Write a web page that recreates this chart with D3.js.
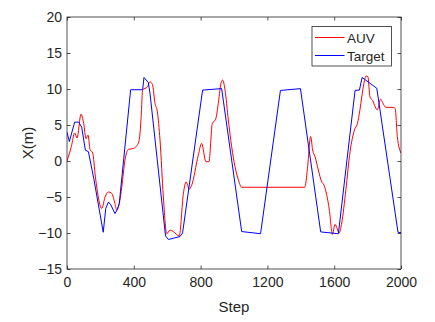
<!DOCTYPE html>
<html><head><meta charset="utf-8">
<script src="https://cdn.jsdelivr.net/npm/d3@7"></script>
<style>body{margin:0;background:#fff}svg{display:block}text{font-family:"Liberation Sans",Arial,sans-serif;fill:#262626}</style>
</head><body>
<script>
const xTicks = [0, 400, 800, 1200, 1600, 2000];
const yTicks = [-15, -10, -5, 0, 5, 10, 15, 20];
const seriesNames = ["AUV", "Target"];
const targetSteps = [0, 14, 46, 70, 88, 110, 128, 160, 217, 232, 248, 263, 287, 300, 313, 381, 453, 461, 487, 497, 590, 607, 676, 692, 812, 926, 1046, 1159, 1278, 1398, 1519, 1625, 1725, 1751, 1767, 1855, 1982, 2000];
const targetValues = [4.0, 2.7, 5.4, 5.4, 4.7, 1.5, 1.3, -2.4, -9.9, -6.6, -5.7, -6.1, -7.3, -6.8, -5.9, 9.9, 9.9, 11.6, 10.9, 9.4, -10.4, -10.9, -10.5, -10.0, 9.85, 10.05, -9.8, -10.1, 9.8, 10.05, -9.85, -10.1, 9.8, 9.85, 11.6, 10.1, -9.9, -9.95];
const auvSteps = [0, 4, 26, 46, 60, 84, 100, 114, 126, 138, 154, 170, 178, 208, 228, 248, 268, 287, 297, 313, 328, 347, 367, 397, 421, 433, 443, 453, 481, 497, 512, 527, 541, 557, 577, 597, 617, 636, 672, 697, 713, 732, 746, 786, 806, 832, 850, 870, 890, 906, 920, 932, 946, 966, 986, 1006, 1026, 1046, 1424, 1440, 1459, 1471, 1485, 1505, 1525, 1539, 1555, 1571, 1589, 1605, 1618, 1629, 1645, 1670, 1695, 1721, 1739, 1754, 1765, 1778, 1790, 1802, 1814, 1830, 1846, 1858, 1878, 1890, 1910, 1954, 1965, 1978, 2000];
const auvValues = [0.0, 0.3, 2.0, 3.9, 3.2, 6.5, 5.2, 3.1, 3.6, 1.6, 1.1, -2.2, -3.6, -6.6, -5.0, -4.3, -4.5, -5.9, -6.8, -5.9, -3.6, 0.1, 1.6, 1.75, 2.2, 3.0, 5.7, 9.86, 10.3, 11.0, 10.6, 8.0, 6.85, 2.9, -5.0, -10.1, -9.6, -9.8, -10.4, -4.5, -2.9, -3.9, -3.4, 0.8, 2.45, -0.1, -0.1, 5.2, 5.8, 8.0, 10.55, 11.25, 9.9, 5.7, 2.0, -0.8, -2.6, -3.65, -3.65, -1.0, 3.4, 1.5, 0.6, -1.25, -2.9, -3.35, -4.7, -6.8, -10.2, -8.8, -9.4, -10.0, -8.6, -4.0, 1.3, 4.3, 5.2, 7.1, 8.9, 10.8, 11.8, 11.7, 8.9, 8.4, 7.5, 7.1, 8.6, 8.1, 7.45, 7.45, 7.3, 3.4, 1.1];

const W = 435, H = 322;
const m = {l: 67, r: 401, t: 17, b: 269};
const svg = d3.select("body").append("svg").attr("width", W).attr("height", H);
const x = d3.scaleLinear().domain([0, 2000]).range([m.l, m.r]);
const y = d3.scaleLinear().domain([-15, 20]).range([m.b, m.t]);

const axisColor = "#262626";
const gx = svg.append("g").attr("transform", `translate(0,${m.b})`)
  .call(d3.axisBottom(x).tickValues(xTicks).tickSize(-3.5).tickPadding(8).tickFormat(d3.format("d")));
const gxt = svg.append("g").attr("transform", `translate(0,${m.t})`)
  .call(d3.axisTop(x).tickValues(xTicks).tickSize(-3.5).tickFormat(""));
const gy = svg.append("g").attr("transform", `translate(${m.l},0)`)
  .call(d3.axisLeft(y).tickValues(yTicks).tickSize(-3.5).tickPadding(5).tickFormat(d3.format("d")));
const gyr = svg.append("g").attr("transform", `translate(${m.r},0)`)
  .call(d3.axisRight(y).tickValues(yTicks).tickSize(-3.5).tickFormat(""));
[gx, gxt, gy, gyr].forEach(g => {
  g.select(".domain").remove();
  g.selectAll("line").attr("stroke", axisColor).attr("stroke-width", 0.8);
  g.selectAll("text").style("font-size", "14px").attr("fill", axisColor).style("font-family", '"Liberation Sans",Arial,sans-serif');
});

svg.append("clipPath").attr("id", "c").append("rect")
  .attr("x", m.l).attr("y", m.t).attr("width", m.r - m.l).attr("height", m.b - m.t);

const targetData = targetSteps.map((s, i) => [s, targetValues[i]]);
const auvData = auvSteps.map((s, i) => [s, auvValues[i]]);
const plot = svg.append("g").attr("clip-path", "url(#c)");
plot.append("path").datum(auvData).attr("fill", "none").attr("stroke", "#ff0000").attr("stroke-width", 1)
  .attr("d", d3.line().x(d => x(d[0])).y(d => y(d[1])).curve(d3.curveMonotoneX));
plot.append("path").datum(targetData).attr("fill", "none").attr("stroke", "#0000ff").attr("stroke-width", 1)
  .attr("d", d3.line().x(d => x(d[0])).y(d => y(d[1])));

svg.append("rect").attr("x", m.l).attr("y", m.t).attr("width", m.r - m.l).attr("height", m.b - m.t)
  .attr("fill", "none").attr("stroke", axisColor).attr("stroke-width", 0.8);

svg.append("text").attr("x", (m.l + m.r) / 2).attr("y", 312).attr("text-anchor", "middle")
  .style("font-size", "15px").text("Step");
svg.append("text").attr("transform", `translate(33,143) rotate(-90)`).attr("text-anchor", "middle")
  .style("font-size", "15px").text("X(m)");

const lg = svg.append("g");
lg.append("rect").attr("x", 312).attr("y", 26.5).attr("width", 79.5).attr("height", 39.5)
  .attr("fill", "#fff").attr("stroke", axisColor).attr("stroke-width", 0.8);
const colors = ["#ff0000", "#0000ff"];
seriesNames.forEach((n, i) => {
  const yy = 37.5 + i * 18;
  lg.append("line").attr("x1", 315).attr("x2", 344.5).attr("y1", yy).attr("y2", yy)
    .attr("stroke", colors[i]).attr("stroke-width", 1);
  lg.append("text").attr("x", 347).attr("y", yy + 5).style("font-size", "13.5px").text(n);
});
</script>
</body></html>
